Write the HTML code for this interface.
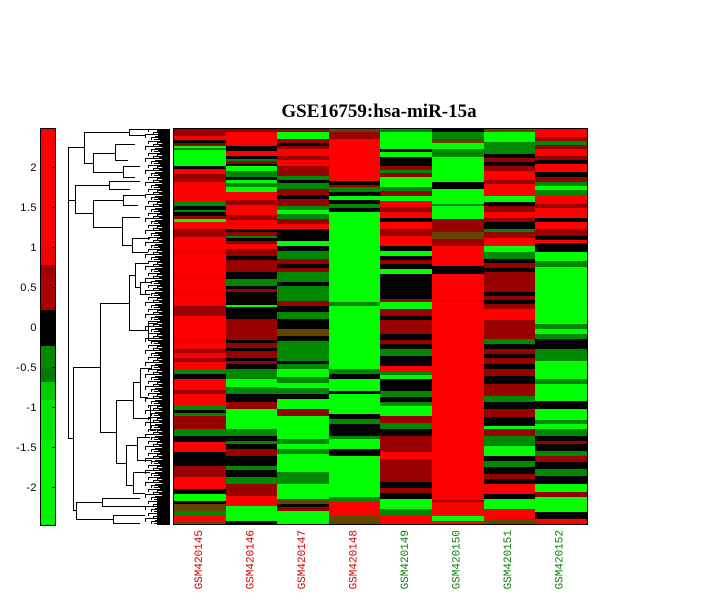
<!DOCTYPE html>
<html>
<head>
<meta charset="utf-8">
<style>
html,body{margin:0;padding:0;background:#fff;}
body{width:716px;height:616px;position:relative;overflow:hidden;}
.c{position:absolute;top:0;height:525px;}
#c1{left:174px;width:52px;background:linear-gradient(to bottom,transparent 0 129px,#900 129px 136px,#f00 136px 140px,#000 140px 143px,#900 143px 146px,#0f0 146px 148px,#080 148px 150px,#0f0 150px 166px,#000 166px 169px,#f00 169px 174px,#900 174px 182px,#f00 182px 201px,#080 201px 206px,#000 206px 210px,#080 210px 212px,#000 212px 216px,#900 216px 219px,#0f0 219px 222px,#f00 222px 229px,#900 229px 237px,#f00 237px 250px,#e00 250px 254px,#f00 254px 275px,#e00 275px 280px,#f00 280px 292px,#e00 292px 296px,#f00 296px 306px,#900 306px 316px,#f00 316px 340px,#e00 340px 344px,#f00 344px 349px,#900 349px 353px,#f00 353px 358px,#900 358px 362px,#f00 362px 369px,#080 369px 374px,#000 374px 379px,#f00 379px 390px,#900 390px 394px,#f00 394px 406px,#080 406px 410px,#000 410px 413px,#080 413px 416px,#900 416px 429px,#080 429px 436px,#000 436px 442px,#f00 442px 452px,#000 452px 466px,#900 466px 477px,#f00 477px 489px,#000 489px 494px,#0f0 494px 501px,#000 501px 504px,#640 504px 511px,#080 511px 516px,#f00 516px 522px,#640 522px 525px);}
#c2{left:226px;width:51px;background:linear-gradient(to bottom,transparent 0 129px,#900 129px 132px,#f00 132px 146px,#000 146px 151px,#f00 151px 156px,#000 156px 159px,#080 159px 161px,#900 161px 164px,#000 164px 166px,#0f0 166px 171px,#080 171px 177px,#000 177px 180px,#0f0 180px 183px,#080 183px 187px,#0f0 187px 192px,#f00 192px 200px,#900 200px 205px,#f00 205px 215px,#900 215px 220px,#f00 220px 229px,#000 229px 232px,#900 232px 236px,#080 236px 238px,#000 238px 241px,#900 241px 244px,#f00 244px 249px,#900 249px 256px,#000 256px 260px,#900 260px 272px,#000 272px 279px,#080 279px 286px,#000 286px 289px,#900 289px 292px,#000 292px 305px,#0f0 305px 307px,#000 307px 319px,#900 319px 340px,#000 340px 343px,#900 343px 348px,#000 348px 351px,#900 351px 358px,#000 358px 361px,#900 361px 364px,#000 364px 369px,#080 369px 379px,#0f0 379px 387px,#080 387px 394px,#000 394px 402px,#900 402px 409px,#0f0 409px 429px,#080 429px 436px,#000 436px 441px,#080 441px 444px,#000 444px 449px,#900 449px 456px,#000 456px 466px,#080 466px 470px,#000 470px 477px,#080 477px 484px,#900 484px 496px,#f00 496px 506px,#0f0 506px 521px,#000 521px 525px);}
#c3{left:277px;width:52px;background:linear-gradient(to bottom,transparent 0 129px,#900 129px 132px,#0f0 132px 139px,#900 139px 143px,#000 143px 146px,#900 146px 149px,#f00 149px 156px,#900 156px 160px,#f00 160px 166px,#900 166px 176px,#080 176px 180px,#000 180px 183px,#080 183px 189px,#900 189px 195px,#000 195px 199px,#900 199px 206px,#080 206px 210px,#0f0 210px 214px,#080 214px 219px,#900 219px 224px,#f00 224px 229px,#000 229px 241px,#0f0 241px 246px,#000 246px 251px,#080 251px 259px,#900 259px 264px,#000 264px 268px,#900 268px 272px,#080 272px 282px,#000 282px 286px,#080 286px 301px,#900 301px 306px,#000 306px 312px,#080 312px 319px,#000 319px 329px,#640 329px 336px,#000 336px 341px,#080 341px 361px,#000 361px 364px,#080 364px 369px,#0f0 369px 377px,#080 377px 383px,#0f0 383px 388px,#080 388px 394px,#000 394px 399px,#0f0 399px 409px,#900 409px 416px,#0f0 416px 439px,#080 439px 444px,#0f0 444px 449px,#080 449px 454px,#0f0 454px 472px,#080 472px 484px,#0f0 484px 499px,#640 499px 504px,#000 504px 507px,#900 507px 511px,#0f0 511px 525px);}
#c4{left:329px;width:51px;background:linear-gradient(to bottom,transparent 0 129px,#640 129px 132px,#900 132px 139px,#f00 139px 181px,#000 181px 185px,#900 185px 187px,#080 187px 192px,#000 192px 196px,#0f0 196px 200px,#000 200px 204px,#080 204px 208px,#000 208px 212px,#0f0 212px 302px,#080 302px 306px,#0f0 306px 369px,#080 369px 374px,#000 374px 379px,#0f0 379px 391px,#000 391px 394px,#0f0 394px 414px,#000 414px 419px,#080 419px 424px,#000 424px 436px,#080 436px 439px,#0f0 439px 449px,#000 449px 456px,#0f0 456px 497px,#080 497px 502px,#f00 502px 516px,#640 516px 525px);}
#c5{left:380px;width:52px;background:linear-gradient(to bottom,transparent 0 129px,#080 129px 132px,#0f0 132px 149px,#000 149px 152px,#0f0 152px 157px,#000 157px 166px,#900 166px 170px,#080 170px 173px,#900 173px 177px,#0f0 177px 187px,#080 187px 191px,#900 191px 196px,#0f0 196px 201px,#f00 201px 207px,#900 207px 212px,#f00 212px 218px,#000 218px 222px,#f00 222px 229px,#900 229px 236px,#f00 236px 246px,#000 246px 251px,#0f0 251px 256px,#000 256px 260px,#900 260px 264px,#000 264px 269px,#0f0 269px 274px,#000 274px 299px,#900 299px 302px,#0f0 302px 309px,#900 309px 316px,#000 316px 320px,#900 320px 334px,#000 334px 340px,#900 340px 344px,#000 344px 349px,#080 349px 356px,#000 356px 366px,#f00 366px 371px,#080 371px 375px,#0f0 375px 379px,#000 379px 391px,#080 391px 397px,#000 397px 402px,#080 402px 406px,#0f0 406px 416px,#900 416px 423px,#080 423px 429px,#000 429px 436px,#900 436px 452px,#f00 452px 459px,#900 459px 482px,#000 482px 488px,#900 488px 493px,#000 493px 499px,#0f0 499px 509px,#080 509px 516px,#f00 516px 525px);}
#c6{left:432px;width:52px;background:linear-gradient(to bottom,transparent 0 129px,#000 129px 132px,#080 132px 139px,#640 139px 143px,#0f0 143px 149px,#080 149px 157px,#0f0 157px 182px,#000 182px 189px,#0f0 189px 204px,#080 204px 206px,#0f0 206px 219px,#900 219px 232px,#640 232px 239px,#900 239px 246px,#f00 246px 266px,#000 266px 274px,#f00 274px 300px,#e00 300px 302px,#f00 302px 500px,#900 500px 502px,#f00 502px 516px,#0f0 516px 521px,#f00 521px 525px);}
#c7{left:484px;width:51px;background:linear-gradient(to bottom,transparent 0 129px,#640 129px 132px,#0f0 132px 142px,#080 142px 154px,#000 154px 158px,#900 158px 162px,#000 162px 166px,#900 166px 171px,#f00 171px 180px,#900 180px 184px,#f00 184px 196px,#0f0 196px 202px,#000 202px 206px,#900 206px 212px,#f00 212px 218px,#900 218px 222px,#000 222px 229px,#080 229px 232px,#900 232px 238px,#f00 238px 246px,#0f0 246px 252px,#080 252px 259px,#000 259px 263px,#900 263px 268px,#000 268px 272px,#900 272px 292px,#000 292px 296px,#900 296px 300px,#000 300px 304px,#900 304px 309px,#f00 309px 320px,#900 320px 339px,#080 339px 344px,#000 344px 349px,#900 349px 354px,#000 354px 358px,#900 358px 364px,#000 364px 369px,#900 369px 376px,#000 376px 384px,#900 384px 396px,#080 396px 402px,#000 402px 409px,#900 409px 417px,#000 417px 426px,#0f0 426px 429px,#900 429px 436px,#080 436px 446px,#0f0 446px 456px,#000 456px 461px,#080 461px 467px,#000 467px 474px,#900 474px 479px,#000 479px 484px,#f00 484px 494px,#000 494px 499px,#0f0 499px 509px,#f00 509px 519px,#640 519px 525px);}
#c8{left:535px;width:52px;background:linear-gradient(to bottom,transparent 0 129px,#f00 129px 137px,#900 137px 141px,#080 141px 145px,#900 145px 149px,#f00 149px 156px,#900 156px 160px,#000 160px 164px,#f00 164px 172px,#000 172px 177px,#900 177px 182px,#080 182px 186px,#0f0 186px 190px,#080 190px 196px,#f00 196px 204px,#900 204px 208px,#f00 208px 218px,#000 218px 222px,#f00 222px 229px,#900 229px 236px,#000 236px 240px,#f00 240px 243px,#000 243px 252px,#0f0 252px 261px,#080 261px 267px,#0f0 267px 324px,#080 324px 329px,#0f0 329px 334px,#080 334px 339px,#000 339px 349px,#080 349px 361px,#0f0 361px 379px,#080 379px 384px,#0f0 384px 401px,#000 401px 409px,#0f0 409px 420px,#080 420px 424px,#0f0 424px 429px,#080 429px 436px,#000 436px 441px,#900 441px 444px,#000 444px 451px,#080 451px 456px,#900 456px 462px,#000 462px 469px,#080 469px 476px,#000 476px 484px,#0f0 484px 492px,#900 492px 497px,#0f0 497px 512px,#000 512px 519px,#f00 519px 525px);}
#hb{position:absolute;left:173px;top:128px;width:413px;height:395px;border:1px solid #000;}
#cb{position:absolute;left:41px;top:0;width:14px;height:526px;background:linear-gradient(to bottom,transparent 0 129px,#f00 129px 230px,#f00 230px 247px,#e00 247px 265px,#900 265px 275px,#a00 275px 310px,#000 310px 346px,#008a00 346px 368px,#007d00 368px 382px,#00cc00 382px 400px,#00e600 400px 440px,#00f500 440px 526px);}
#cbb{position:absolute;left:40px;top:128px;width:14px;height:396px;border:1px solid #000;}
svg{position:absolute;left:0;top:0;}
</style>
</head>
<body>
<div class="c" id="c1"></div>
<div class="c" id="c2"></div>
<div class="c" id="c3"></div>
<div class="c" id="c4"></div>
<div class="c" id="c5"></div>
<div class="c" id="c6"></div>
<div class="c" id="c7"></div>
<div class="c" id="c8"></div>
<div id="hb"></div>
<div id="cb"></div>
<div id="cbb"></div>
<svg width="716" height="616" viewBox="0 0 716 616" xmlns="http://www.w3.org/2000/svg">
<defs>
<pattern id="lv" x="140" y="129" width="30" height="12" patternUnits="userSpaceOnUse">
<g fill="#000" shape-rendering="crispEdges">
<rect x="22" y="0" width="8" height="12"/>
<rect x="8" y="0" width="14" height="1"/>
<rect x="17" y="1" width="5" height="1"/>
<rect x="13" y="3" width="9" height="1"/>
<rect x="19" y="4" width="3" height="1"/>
<rect x="5" y="5" width="17" height="1"/>
<rect x="15" y="7" width="7" height="1"/>
<rect x="11" y="8" width="11" height="1"/>
<rect x="18" y="9" width="4" height="1"/>
<rect x="14" y="10" width="8" height="1"/>
<rect x="20" y="11" width="2" height="1"/>
<rect x="8" y="0" width="1" height="3"/>
<rect x="13" y="3" width="1" height="2"/>
<rect x="5" y="5" width="1" height="4"/>
<rect x="11" y="8" width="1" height="3"/>
<rect x="17" y="1" width="1" height="3"/>
</g>
</pattern>
</defs>
<rect x="140" y="129" width="30" height="396" fill="url(#lv)" shape-rendering="crispEdges"/>
<rect x="158" y="129" width="12" height="10" fill="#000" shape-rendering="crispEdges"/>
<rect x="150" y="498" width="20" height="27" fill="url(#lv)" shape-rendering="crispEdges"/>
<rect x="157" y="498" width="13" height="27" fill="#000" shape-rendering="crispEdges"/>
<path fill="none" stroke="#000" stroke-width="1" shape-rendering="crispEdges" d="
M68.5 147 V438
M68 147.5 H84 M84.5 132 V163
M84 132.5 H129 M129.5 129 V136 M129 129.5 H150 M129 135.5 H145
M84 163.5 H93 M93.5 153 V172 M93 153.5 H115 M115.5 144 V160 M115 144.5 H135 M115 160.5 H128 M93 172.5 H123 M123.5 166 V178 M123 166.5 H140 M123 177.5 H135
M68 200.5 H75 M75.5 185 V213
M75 185.5 H109 M109.5 181 V190 M109 181.5 H140 M109 189.5 H130
M75 213.5 H93 M93.5 200 V227 M93 200.5 H123 M123.5 195 V206 M123 195.5 H145 M123 205.5 H138
M93 227.5 H122 M122.5 217 V245 M122 217.5 H140 M122 245.5 H132 M132.5 238 V252 M132 238.5 H150 M132 252.5 H148
M68 438.5 H73 M73.5 367 V510
M73 367.5 H100 M100.5 303 V432
M100 303.5 H129 M129.5 275 V330 M129 275.5 H135 M135.5 263 V287 M135 263.5 H148 M135 287.5 H140 M140.5 282 V294 M140 282.5 H152 M140 294.5 H150
M129 330.5 H148 M148.5 323 V340 M148 323.5 H158 M148 340.5 H155
M100 432.5 H116 M116.5 400 V463
M116 400.5 H133 M133.5 382 V418 M133 382.5 H140 M140.5 368 V397 M140 368.5 H152 M140 397.5 H148 M133 418.5 H150 M150.5 405 V430 M150 405.5 H158 M150 430.5 H156
M116 463.5 H126 M126.5 445 V485 M126 445.5 H137 M137.5 437 V460 M137 437.5 H150 M137 460.5 H152 M126 485.5 H133 M133.5 472 V493 M133 472.5 H150 M133 493.5 H145
M73 510.5 H76 M76.5 502 V519
M76 502.5 H102 M102.5 498 V506 M102 498.5 H140 M102 506.5 H145
M76 519.5 H113 M113.5 515 V523 M113 515.5 H145 M113 523.5 H140
"/>
<path fill="none" stroke="#000" stroke-width="1" shape-rendering="crispEdges" d="M52 167.5 H55 M52 207.5 H55 M52 247.5 H55 M52 287.5 H55 M52 327.5 H55 M52 367.5 H55 M52 407.5 H55 M52 447.5 H55 M52 487.5 H55"/>
<g font-family="Liberation Sans, Arial, sans-serif" font-size="11" fill="#000" text-anchor="end" letter-spacing="0.5">
<text x="37" y="171">2</text>
<text x="37" y="211">1.5</text>
<text x="37" y="251">1</text>
<text x="37" y="291">0.5</text>
<text x="37" y="331">0</text>
<text x="37" y="371">-0.5</text>
<text x="37" y="411">-1</text>
<text x="37" y="451">-1.5</text>
<text x="37" y="491">-2</text>
</g>
<text x="379" y="117" font-family="Liberation Serif, Times New Roman, serif" font-weight="bold" font-size="19" text-anchor="middle" fill="#000">GSE16759:hsa-miR-15a</text>
<g font-family="Liberation Mono, Courier New, monospace" font-size="11" text-anchor="end">
<text transform="translate(202,530) rotate(-90)" fill="#cc0000">GSM420145</text>
<text transform="translate(253.5,530) rotate(-90)" fill="#cc0000">GSM420146</text>
<text transform="translate(305,530) rotate(-90)" fill="#cc0000">GSM420147</text>
<text transform="translate(356.5,530) rotate(-90)" fill="#cc0000">GSM420148</text>
<text transform="translate(408,530) rotate(-90)" fill="#0a800a">GSM420149</text>
<text transform="translate(459.5,530) rotate(-90)" fill="#0a800a">GSM420150</text>
<text transform="translate(511,530) rotate(-90)" fill="#0a800a">GSM420151</text>
<text transform="translate(562.5,530) rotate(-90)" fill="#0a800a">GSM420152</text>
</g>
</svg>
</body>
</html>
